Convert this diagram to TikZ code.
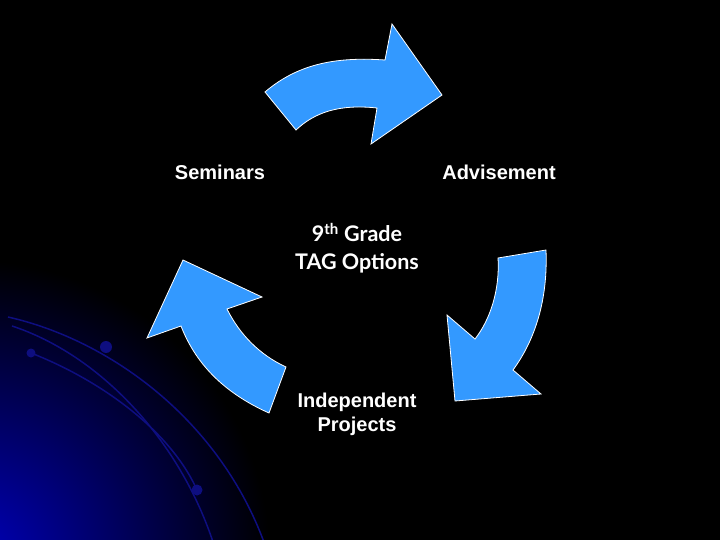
\documentclass[tikz,border=0pt]{standalone}
\usepackage{fontspec}
\setmainfont{Liberation Sans}
\newfontfamily\centerfont{Lato}
\usepackage{tikz}
\usepackage{xcolor}
\usetikzlibrary{positioning}
\definecolor{arrowblue}{HTML}{3399FF}
\definecolor{swirl}{HTML}{0E0E80}
\definecolor{glow}{HTML}{0000BC}

\begin{document}
\begin{tikzpicture}[x=1pt, y=-1pt,
    stagetext/.style={text=white, font=\fontsize{20}{24}\selectfont\bfseries, align=center},
    hubtext/.style={text=white, font=\centerfont\fontsize{21.5}{28}\selectfont\bfseries, align=center},
    cyclearrow/.style={fill=arrowblue, draw=white, line width=0.8pt, line join=miter},
    swirlline/.style={draw=swirl, line width=1.5pt},
    swirldot/.style={fill=swirl}]
                        \useasboundingbox (0,0) rectangle (720,540);
                        \fill[black] (0,0) rectangle (720,540);
                        \begin{scope}
                        \clip (0,0) rectangle (720,540);
                        \shade[inner color=glow, outer color=black] (-30,560) circle (300);
                        \draw[swirlline] (8,317) .. controls (110,340) and (220,420) .. (265,545);
                        \draw[swirlline] (12,326) .. controls (100,355) and (180,440) .. (214,545);
                        \draw[swirlline] (31,353) .. controls (100,380) and (170,430) .. (197,490);
                        \fill[swirldot] (31,353) circle (4.5) (106,347) circle (6) (197,490) circle (5.5);
                        \end{scope}
                        \draw[cyclearrow] (265,92) .. controls (300,62) and (340,57) .. (385,60)
                        -- (392,24) -- (442,95) -- (371,144) -- (377,108)
                        .. controls (340,104) and (315,112) .. (296,130) -- cycle;
                        \draw[cyclearrow] (498,258) -- (546,250)
                        .. controls (548,300) and (535,340) .. (513,370)
                        -- (541,394) -- (455,401) -- (447,315) -- (475,339)
                        .. controls (490,320) and (500,290) .. (498,258) -- cycle;
                        \draw[cyclearrow] (269,413) .. controls (222,392) and (195,362) .. (181,326)
                        -- (147,338) -- (183,260) -- (262,297) -- (227,309)
                        .. controls (240,335) and (260,355) .. (286,367) -- cycle;
                        \node[stagetext] (sem) at (220,172) {Seminars};
                        \node[stagetext] (adv) at (499,172) {Advisement};
                        \node[hubtext] (tag) at (357,248) {9\textsuperscript{th} Grade\\TAG Options};
                        \node[stagetext] (ind) at (357,414) {Independent\\Projects};
                    \end{tikzpicture}
\end{document}
